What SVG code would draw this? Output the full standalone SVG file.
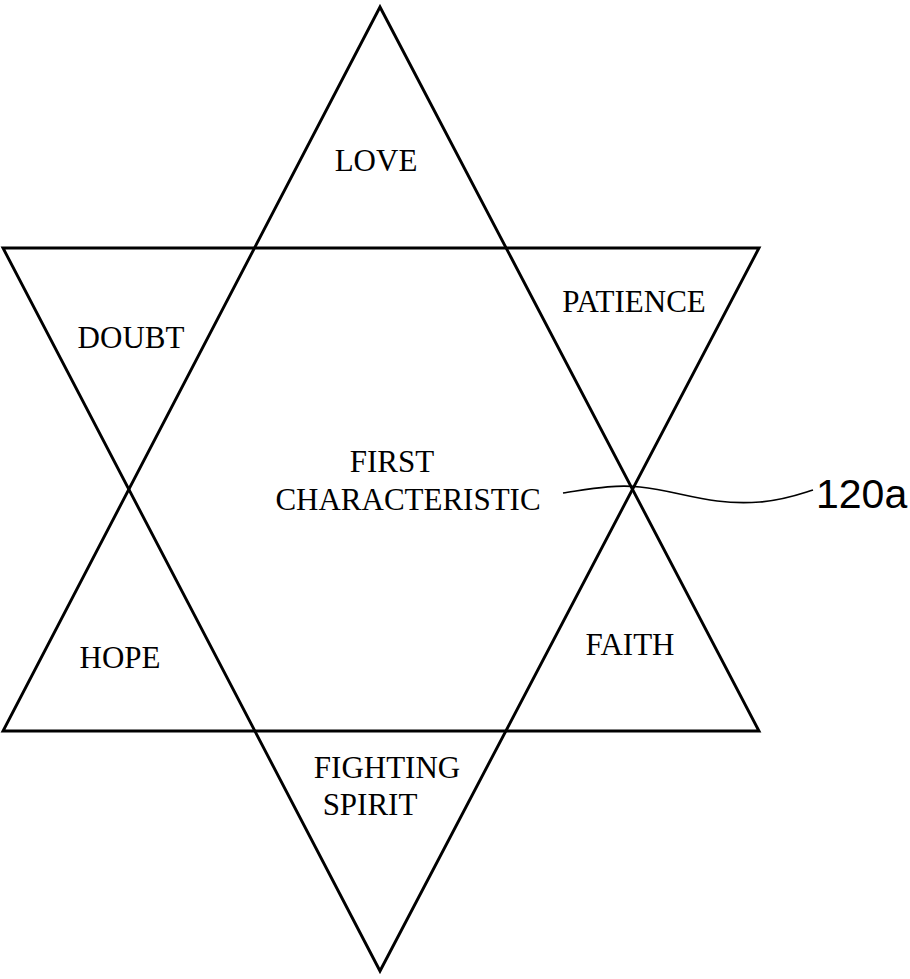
<svg xmlns="http://www.w3.org/2000/svg" width="910" height="979" viewBox="0 0 910 979">
<style>
.ln{fill:none;stroke:#000;stroke-width:2.9;stroke-linejoin:miter}
.lb{font-family:"Liberation Serif","Times New Roman",serif;font-size:31px;fill:#000;text-anchor:middle}
.ref{font-family:"Liberation Sans",Arial,sans-serif;font-size:41px;fill:#000}
.lead{fill:none;stroke:#000;stroke-width:1.7}
</style>
<rect width="910" height="979" fill="#fff"/>
<g id="connectors">
<polygon id="tri-up" class="ln" points="380,7 3,731 759,731"/>
<polygon id="tri-down" class="ln" points="3,248 759,248 380,971"/>
<path id="leader" class="lead" d="M563,493 C590,489 615,484 640,487 C680,491 710,506 760,502 C785,500 800,494 813,490"/>
</g>
<g id="n-love"><text class="lb" x="376" y="171">LOVE</text></g>
<g id="n-patience"><text class="lb" x="634" y="312">PATIENCE</text></g>
<g id="n-doubt"><text class="lb" x="131" y="348">DOUBT</text></g>
<g id="n-first"><text class="lb" x="392" y="472">FIRST</text><text class="lb" x="408" y="510">CHARACTERISTIC</text></g>
<g id="n-hope"><text class="lb" x="120" y="668">HOPE</text></g>
<g id="n-faith"><text class="lb" x="630" y="655">FAITH</text></g>
<g id="n-fighting"><text class="lb" x="387" y="778">FIGHTING</text><text class="lb" x="370" y="815">SPIRIT</text></g>
<g id="n-120a"><text class="ref" x="816" y="508">120a</text></g>
</svg>
